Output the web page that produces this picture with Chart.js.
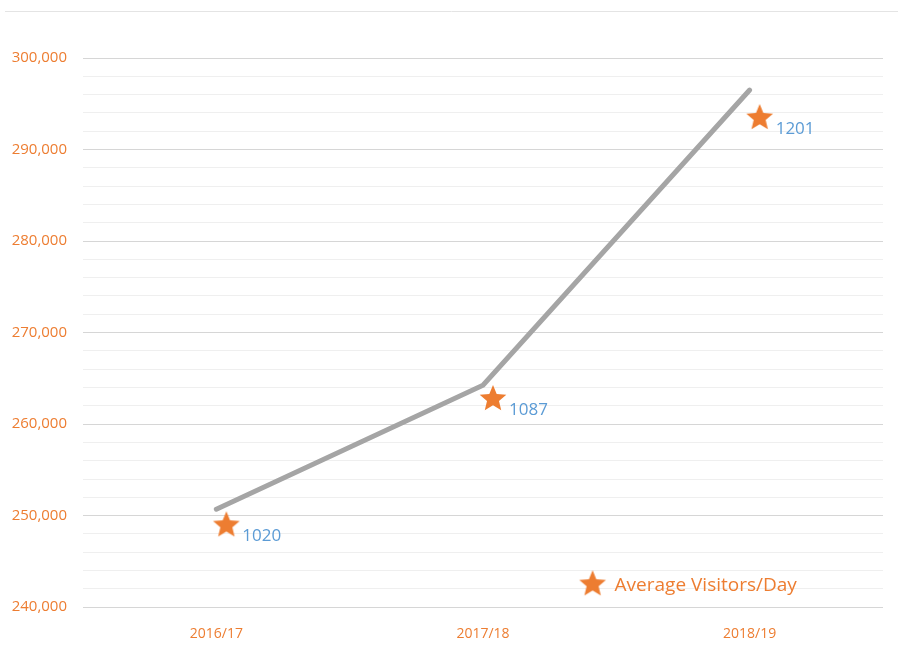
<!DOCTYPE html>
<html>
<head>
<meta charset="utf-8">
<script src="https://cdn.jsdelivr.net/npm/chart.js@4"></script>
<style>
  html, body { margin: 0; padding: 0; background: #fff; }
  #wrap { width: 898px; height: 660px; }
</style>
</head>
<body>
<div id="wrap"><canvas id="graficoVisitas"></canvas></div>
<script>
const years = ['2016/17', '2017/18', '2018/19'];
const visitors = [250700, 264250, 296500];
const starLevels = [248950, 262750, 293450];
const perDay = [1020, 1087, 1201];
const yMin = 240000;
const yMax = 300000;

const orange = '#ed7d31';
const blue = '#5b9bd5';

// star drawn a bit right of centre inside its canvas, as in the original
function makeStar(r, shift) {
    const c = document.createElement('canvas');
    const w = (r + Math.abs(shift)) * 2 + 4;
    c.width = w;
    c.height = r * 2 + 4;
    const g = c.getContext('2d');
    const cx = w / 2 + shift, cy = c.height / 2;
    g.beginPath();
    for (let i = 0; i < 10; i++) {
        const rad = i % 2 === 0 ? r : r * 0.45;
        const a = -Math.PI / 2 + i * Math.PI / 5;
        const px = cx + rad * Math.cos(a), py = cy + rad * Math.sin(a);
        if (i === 0) g.moveTo(px, py); else g.lineTo(px, py);
    }
    g.closePath();
    g.fillStyle = orange;
    g.fill();
    return c;
}

const starShift = 10;
const star = makeStar(14, starShift);
const legendStar = makeStar(14, 0);

const extras = {
    id: 'extras',
    beforeDraw(chart) {
        const c = chart.ctx;
        c.save();
        c.strokeStyle = '#e4e4e4';
        c.lineWidth = 1;
        c.beginPath();
        c.moveTo(5, 11.5);
        c.lineTo(898, 11.5);
        c.stroke();
        c.restore();
    },
    afterDatasetsDraw(chart) {
        const c = chart.ctx;
        const meta = chart.getDatasetMeta(1);
        c.save();
        c.font = '17px "Open Sans", sans-serif';
        c.fillStyle = blue;
        c.textBaseline = 'middle';
        meta.data.forEach(function(pt, i) {
            c.fillText(String(perDay[i]), pt.x + starShift + 16, pt.y + 11);
        });
        // legend
        const area = chart.chartArea;
        const lx = area.left + (area.right - area.left) * 0.637;
        const ly = area.bottom - 23;
        c.drawImage(legendStar, lx - legendStar.width / 2, ly - legendStar.height / 2);
        c.fillStyle = orange;
        c.font = '19px "Open Sans", sans-serif';
        c.fillText('Average Visitors/Day', lx + 22, ly + 1);
        c.restore();
    }
};

const ctx = document.getElementById('graficoVisitas');

const chart = new Chart(ctx, {
    type: 'line',
    data: {
        labels: years,
        datasets: [
            {
                label: 'Visitors',
                data: visitors,
                borderColor: '#a5a5a5',
                borderWidth: 5,
                borderCapStyle: 'round',
                pointRadius: 0,
                tension: 0
            },
            {
                label: 'Average Visitors/Day',
                data: starLevels,
                showLine: false,
                pointStyle: star,
                pointRadius: 14
            }
        ]
    },
    plugins: [extras],
    options: {
        responsive: true,
        maintainAspectRatio: false,
        animation: false,
        layout: {
            padding: { top: 58, left: 6, right: 12, bottom: 0 }
        },
        plugins: {
            legend: { display: false },
            tooltip: { enabled: false }
        },
        scales: {
            x: {
                offset: true,
                grid: { display: false, drawTicks: false },
                border: { display: false },
                ticks: {
                    color: orange,
                    padding: 18,
                    font: { family: '"Open Sans", sans-serif', size: 14 }
                }
            },
            y: {
                min: yMin,
                max: yMax,
                border: { display: false },
                grid: {
                    drawTicks: false,
                    color: function(context) {
                        return context.tick.value % 10000 === 0 ? '#d6d6d6' : '#efefef';
                    }
                },
                afterFit: function(scale) { scale.width = 77; },
                ticks: {
                    stepSize: 2000,
                    autoSkip: false,
                    color: orange,
                    padding: 16,
                    font: { family: '"Open Sans", sans-serif', size: 15 },
                    callback: function(value) {
                        return value % 10000 === 0 ? value.toLocaleString('en-US') : '';
                    }
                }
            }
        }
    }
});
</script>
</body>
</html>
